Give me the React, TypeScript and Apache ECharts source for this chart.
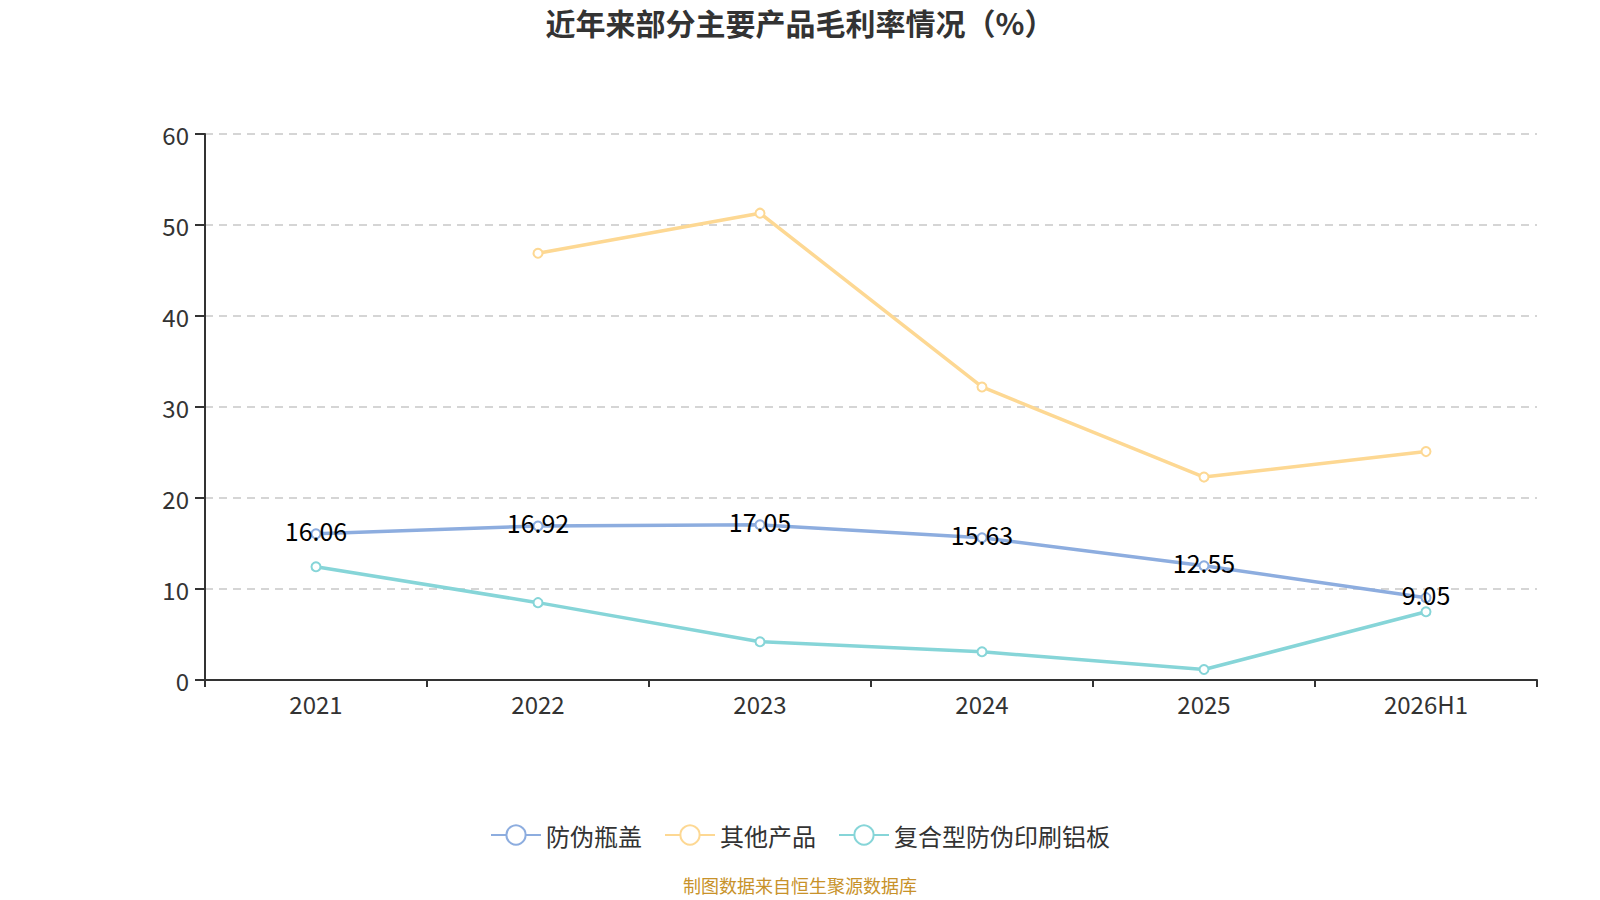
import React, { useEffect, useRef } from "react";
import * as echarts from "echarts";

const categories = ["2021", "2022", "2023", "2024", "2025", "2026H1"];
const bottleCap = [16.06, 16.92, 17.05, 15.63, 12.55, 9.05];
const otherProducts = [null, 46.9, 51.3, 32.2, 22.3, 25.1];
const aluminumPlate = [12.45, 8.5, 4.2, 3.1, 1.15, 7.5];
const yTicks = { min: 0, max: 60, interval: 10 };

const FONT = "'Noto Sans CJK SC', 'Noto Sans', sans-serif";

export default function App() {
  const ref = useRef<HTMLDivElement>(null);
  useEffect(() => {
    document.body.style.margin = "0";
    const chart = echarts.init(ref.current!, undefined, { renderer: "svg" });
    const lineSeries = (name: string, data: any[], color: string, withLabel: boolean) => ({
      name,
      type: "line",
      data,
      symbol: "emptyCircle",
      symbolSize: 9,
      connectNulls: false,
      lineStyle: { width: 3.5, color },
      itemStyle: { color, borderWidth: 1.5 },
      label: withLabel
        ? {
            show: true,
            position: "inside",
            offset: [0, -4],
            color: "#000",
            fontSize: 25,
            fontFamily: FONT,
            formatter: (p: any) => p.value.toFixed(2),
          }
        : { show: false },
    });
    chart.setOption({
      animation: false,
      backgroundColor: "#fff",
      textStyle: { fontFamily: FONT },
      title: {
        text: "近年来部分主要产品毛利率情况（%）",
        left: "center",
        top: 2,
        textStyle: { fontSize: 30, fontWeight: "bold", color: "#333", fontFamily: FONT },
      },
      legend: {
        bottom: 48,
        left: "center",
        itemWidth: 50,
        itemHeight: 24,
        itemGap: 22,
        textStyle: { fontSize: 24, color: "#333", fontFamily: FONT },
        data: ["防伪瓶盖", "其他产品", "复合型防伪印刷铝板"],
      },
      graphic: [
        {
          type: "text",
          left: "center",
          bottom: 6,
          style: { text: "制图数据来自恒生聚源数据库", fill: "#c8922a", fontSize: 18, fontFamily: FONT },
        },
      ],
      grid: { left: 205, right: 63, top: 134, bottom: 220 },
      xAxis: {
        type: "category",
        data: categories,
        boundaryGap: true,
        axisLine: { lineStyle: { color: "#333", width: 2 } },
        axisTick: { show: true, length: 7, lineStyle: { color: "#333", width: 2 } },
        axisLabel: { fontSize: 24, color: "#333", margin: 11, fontFamily: FONT },
      },
      yAxis: {
        type: "value",
        min: yTicks.min,
        max: yTicks.max,
        interval: yTicks.interval,
        axisLine: { show: true, lineStyle: { color: "#333", width: 2 } },
        axisTick: { show: true, length: 10, lineStyle: { color: "#333", width: 2 } },
        axisLabel: { fontSize: 24, color: "#333", margin: 16, fontFamily: FONT },
        splitLine: { lineStyle: { type: [8, 6], color: "#c8c8c8", width: 1.5 } },
      },
      series: [
        lineSeries("防伪瓶盖", bottleCap, "#8daddf", true),
        lineSeries("其他产品", otherProducts, "#fdd893", false),
        lineSeries("复合型防伪印刷铝板", aluminumPlate, "#86d5d8", false),
      ],
    });
    return () => chart.dispose();
  }, []);
  return <div ref={ref} style={{ width: 1600, height: 900 }} />;
}
